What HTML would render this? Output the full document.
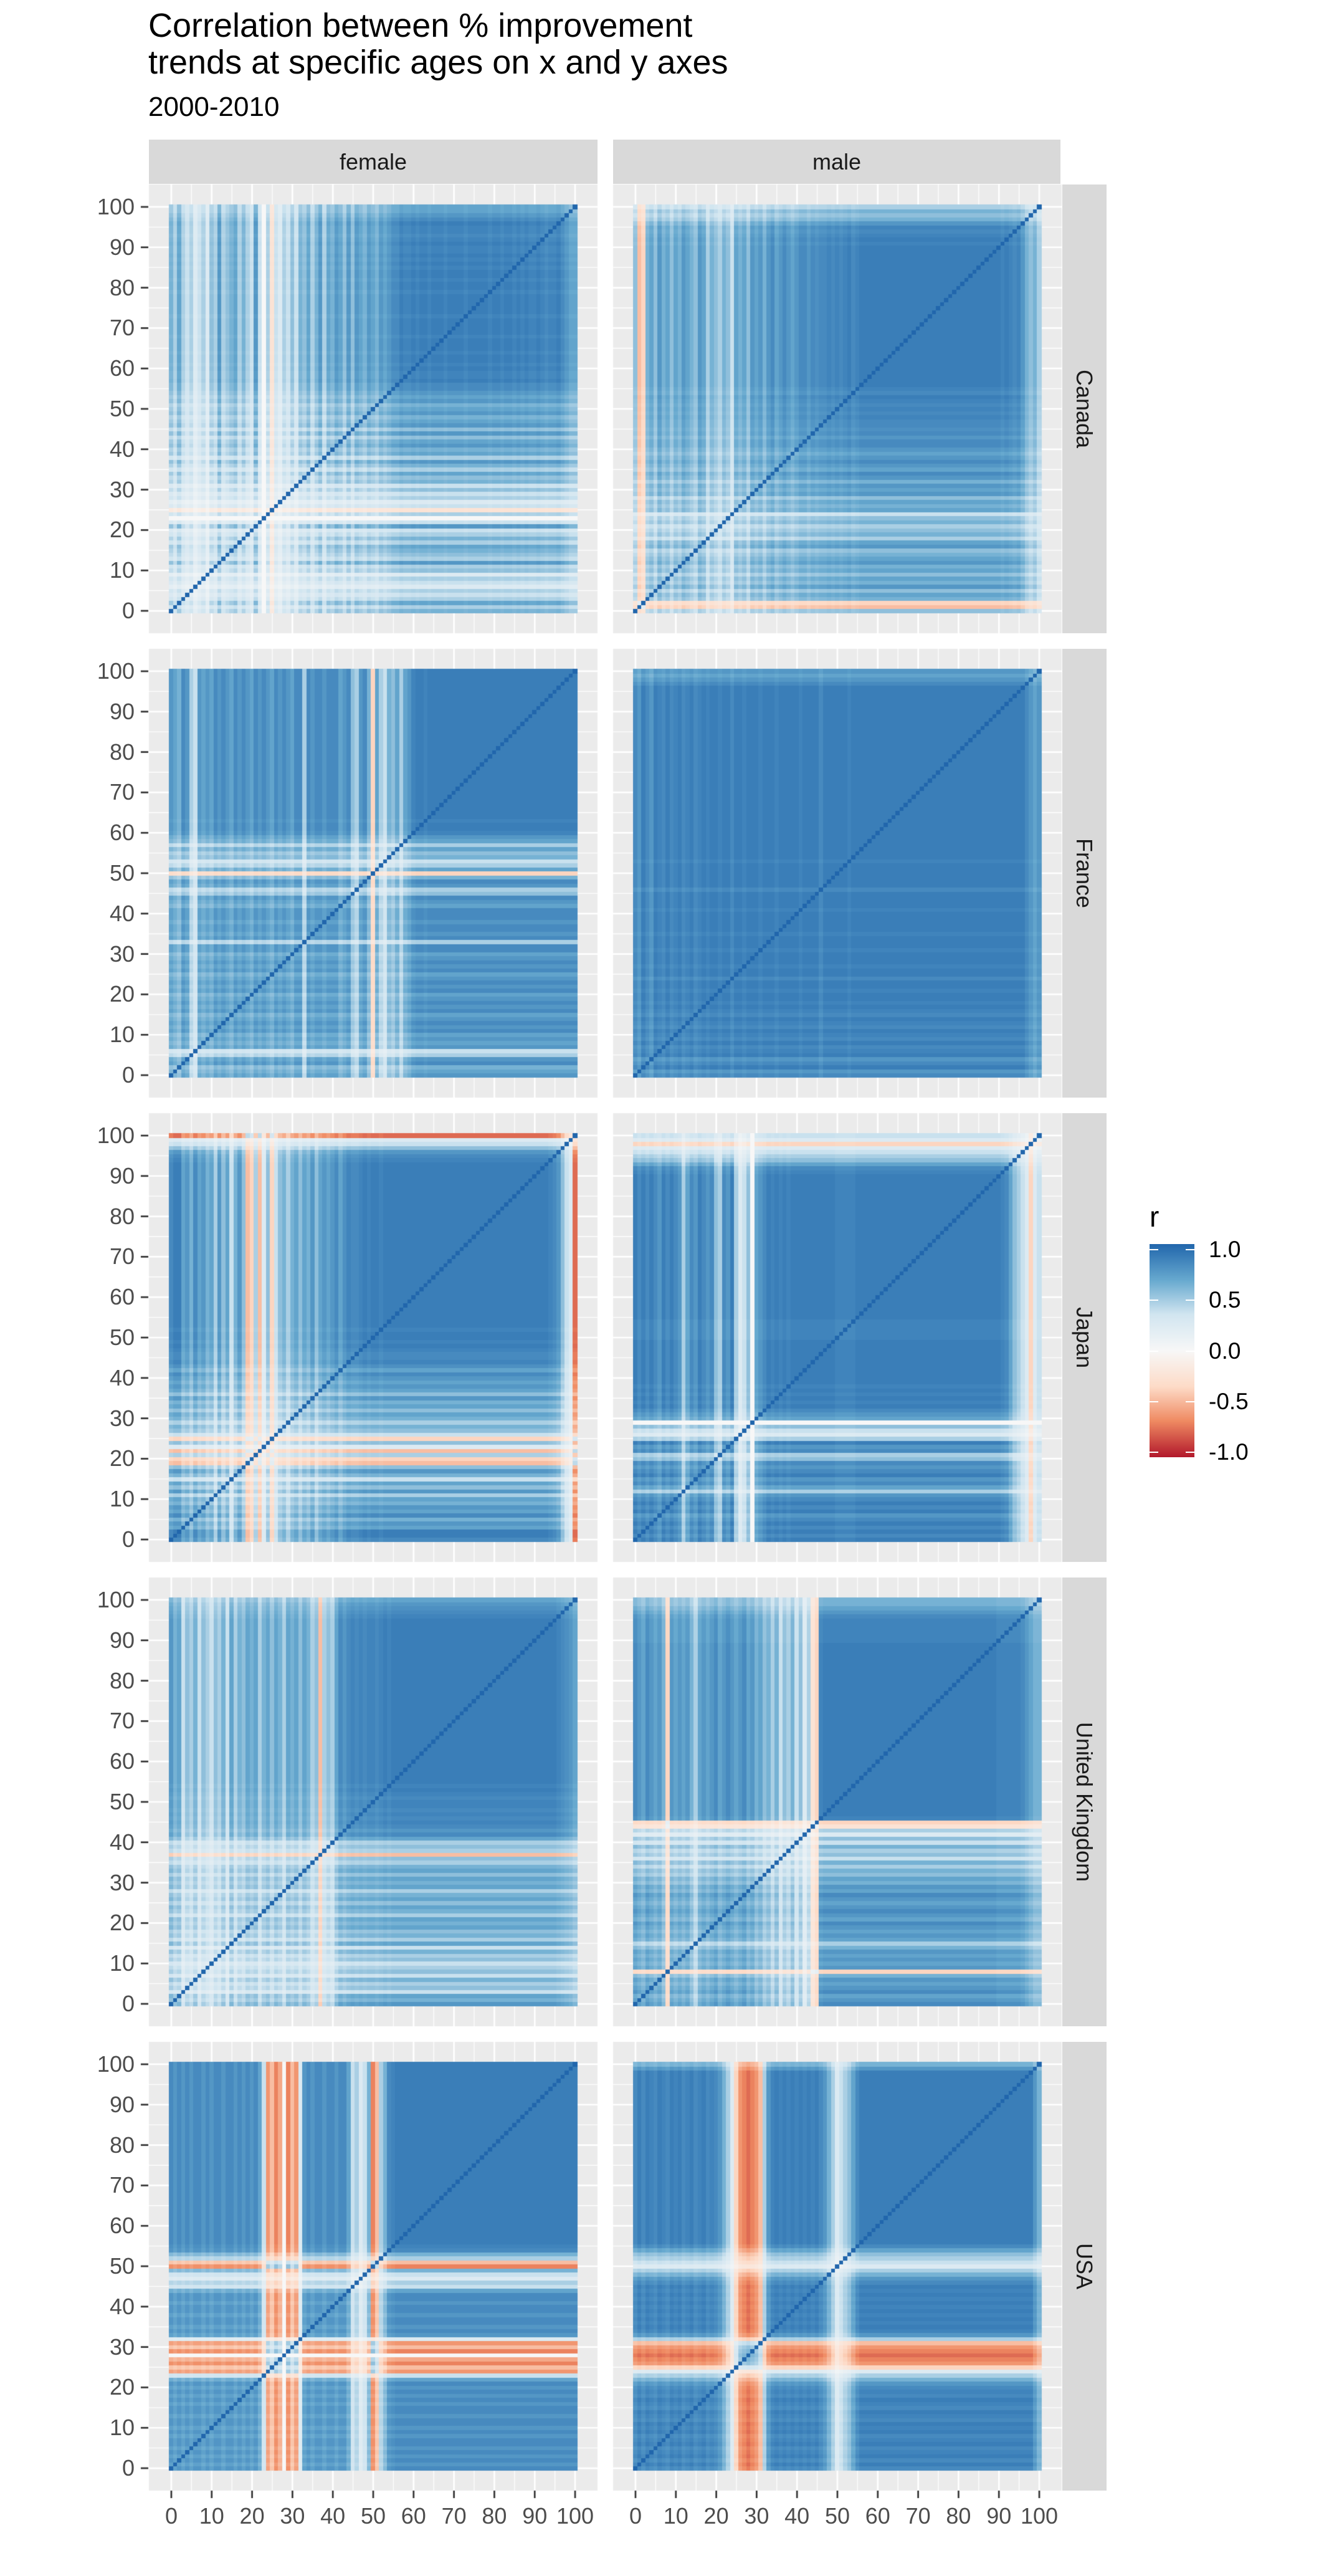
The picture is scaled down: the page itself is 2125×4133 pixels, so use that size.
<!DOCTYPE html>
<html><head><meta charset="utf-8"><style>
body{margin:0;background:#fff;width:2125px;height:4133px;position:relative;overflow:hidden;font-family:"Liberation Sans",Arial,sans-serif}
.t{position:absolute;white-space:nowrap}
.strip{position:absolute;background:#d9d9d9;color:#1a1a1a;font-size:36px;display:flex;align-items:center;justify-content:center}
.yl{position:absolute;font-size:36px;color:#4d4d4d;transform:translateY(-50%);text-align:right;width:100px}
.xl{position:absolute;font-size:36px;color:#4d4d4d;transform:translateX(-50%);top:4016px}
</style></head><body>
<canvas id="cv" width="2125" height="4133" style="position:absolute;left:0;top:0"></canvas>
<div class="t" style="left:238px;top:12px;font-size:54px;line-height:59px;color:#000">Correlation between % improvement<br>trends at specific ages on x and y axes</div>
<div class="t" style="left:238px;top:147px;font-size:44px;color:#000">2000-2010</div>
<div class="strip" style="left:239px;top:224px;width:720px;height:71px">female</div>
<div class="strip" style="left:984px;top:224px;width:718px;height:71px">male</div>
<div class="t" style="left:1845px;top:1925px;font-size:46px;color:#000">r</div>
<div id="legbar" style="position:absolute;left:1845px;top:1996px;width:72px;height:342px;background:linear-gradient(to bottom,#2166ac 0%,#67a9cf 17%,#d1e5f0 33%,#f7f7f7 50%,#fddbc7 67%,#ef8a62 83%,#b2182b 100%)"></div>
<div id="root"></div>
<script>
const countries=["Canada","France","Japan","United Kingdom","USA"];
const sexes=["female","male"];
const yTicks=[0,10,20,30,40,50,60,70,80,90,100];
const legendTicks=[1.0,0.5,0.0,-0.5,-1.0];
const legendLabels=["1.0","0.5","0.0","-0.5","-1.0"];
// per-age loading (approximate factor); r(i,j)~a_i*a_j, diagonal=1
const canadaFemale=[.5,.3,.6,.3,.2,.3,.1,.2,.3,.1,.4,.3,.7,.3,.4,.5,.6,.3,.5,.3,.2,.7,.2,0,.3,-.1,.2,.1,.3,.2,.4,.2,.5,.4,.6,.3,.5,.7,.3,.6,.5,.7,.6,.4,.7,.4,.7,.6,.5,.7,.6,.5,.7,.6,.7,.8,.8,.9,.85,.85,.9,.85,.9,.9,.85,.9,.9,.9,.85,.9,.9,.9,.9,.85,.9,.9,.9,.9,.9,.85,.9,.9,.85,.9,.9,.85,.9,.85,.9,.85,.85,.9,.85,.8,.85,.85,.9,.8,.7,.6,.6];
const canadaMale=[.4,-.3,-.2,.5,.6,.4,.7,.5,.6,.4,.6,.5,.7,.6,.5,.4,.7,.6,.3,.5,.4,.3,.5,.4,.2,.6,.5,.6,.4,.7,.6,.7,.5,.7,.8,.6,.7,.8,.7,.6,.7,.8,.8,.7,.8,.75,.8,.8,.85,.8,.85,.8,.85,.9,.8,.85,.9,.9,.9,.9,.9,.9,.9,.9,.9,.9,.9,.9,.9,.9,.9,.9,.9,.9,.9,.9,.9,.9,.9,.9,.9,.9,.9,.9,.9,.9,.9,.9,.9,.9,.9,.85,.9,.85,.8,.85,.7,.5,.4,.5,.3];
const franceFemale=[.7,.6,.5,.8,.7,.3,.2,.7,.6,.7,.6,.8,.7,.8,.7,.6,.8,.7,.8,.7,.6,.8,.7,.8,.7,.6,.8,.7,.8,.7,.6,.8,.8,.3,.8,.7,.8,.8,.7,.8,.8,.8,.6,.7,.8,.4,.3,.7,.8,.5,-.2,.6,.3,.2,.5,.4,.6,.3,.6,.7,.85,.9,.9,.85,.9,.9,.9,.9,.9,.9,.9,.9,.9,.9,.9,.9,.9,.9,.9,.9,.9,.9,.9,.9,.9,.9,.9,.9,.9,.9,.9,.9,.9,.9,.9,.9,.9,.9,.9,.9,.9];
const franceMale=[.8,.7,.9,.8,.7,.9,.85,.8,.9,.8,.85,.9,.8,.85,.9,.8,.85,.9,.85,.9,.9,.85,.9,.9,.8,.9,.9,.85,.9,.9,.9,.85,.9,.9,.9,.85,.9,.9,.9,.9,.9,.85,.9,.9,.9,.9,.8,.9,.9,.9,.9,.9,.9,.85,.9,.9,.9,.9,.9,.9,.9,.9,.9,.9,.9,.9,.9,.9,.9,.9,.9,.9,.9,.9,.9,.9,.9,.9,.9,.9,.9,.9,.9,.9,.9,.9,.9,.9,.9,.9,.9,.9,.9,.9,.9,.9,.9,.8,.7,.6,.7];
const japanFemale=[.8,.9,.9,.6,.7,.5,.8,.6,.7,.5,.6,.3,.7,.4,.6,.2,.5,.7,.4,-.3,-.2,.3,-.3,.1,.4,-.2,.2,.4,.5,.3,.5,.6,.4,.6,.5,.7,.4,.6,.7,.6,.7,.8,.6,.75,.85,.8,.8,.85,.9,.85,.9,.9,.85,.9,.9,.9,.9,.9,.9,.9,.9,.9,.9,.9,.9,.9,.9,.9,.9,.9,.9,.9,.9,.9,.9,.9,.9,.9,.9,.9,.9,.9,.9,.9,.9,.9,.9,.9,.9,.9,.9,.9,.9,.9,.85,.8,.7,.4,.2,.1,-.7];
const japanMale=[.9,.8,.9,.8,.9,.8,.7,.9,.8,.9,.8,.7,.3,.6,.8,.7,.9,.8,.7,.8,.4,.3,.8,.7,.9,.3,.1,.2,.4,0,.6,.7,.8,.9,.85,.9,.85,.9,.85,.9,.9,.9,.9,.9,.9,.9,.9,.9,.9,.9,.85,.85,.85,.85,.85,.9,.9,.9,.9,.9,.9,.9,.9,.9,.9,.9,.9,.9,.9,.9,.9,.9,.9,.9,.9,.9,.9,.9,.9,.9,.9,.9,.9,.9,.9,.9,.9,.9,.9,.9,.9,.85,.8,.6,.4,.3,.2,.1,-.2,.1,.2];
const ukFemale=[.7,.5,.6,.2,.4,.3,.5,.2,.4,.3,.2,.4,.3,.5,.2,.6,.3,.5,.4,.6,.5,.6,.3,.5,.6,.4,.6,.5,.3,.6,.5,.6,.4,.6,.5,.3,.4,-.3,.3,.4,.3,.6,.8,.7,.8,.85,.8,.85,.8,.85,.85,.8,.85,.9,.85,.9,.9,.9,.9,.9,.9,.9,.9,.9,.9,.9,.9,.9,.9,.9,.9,.9,.9,.9,.9,.9,.9,.9,.9,.9,.9,.9,.9,.9,.9,.9,.9,.9,.9,.9,.9,.9,.9,.9,.9,.9,.85,.8,.75,.7,.6];
const ukMale=[.8,.7,.6,.8,.7,.6,.7,.5,-.2,.7,.6,.7,.6,.7,.5,.3,.6,.7,.6,.7,.8,.6,.7,.8,.7,.6,.7,.8,.6,.7,.5,.6,.4,.5,.3,.5,.2,.4,.3,.5,.2,.4,.1,.3,-.1,-.2,.85,.9,.9,.9,.9,.9,.9,.9,.9,.9,.9,.9,.9,.9,.9,.9,.9,.9,.9,.9,.9,.9,.9,.9,.9,.9,.9,.9,.9,.9,.9,.9,.9,.9,.9,.9,.9,.9,.9,.9,.9,.9,.9,.9,.85,.85,.85,.85,.85,.85,.8,.7,.6,.5,.5];
const usaFemale=[.8,.7,.8,.7,.8,.7,.8,.8,.7,.8,.7,.8,.8,.7,.8,.8,.7,.8,.7,.8,.7,.8,.6,.2,-.5,-.3,-.6,-.4,0,-.6,-.3,-.5,.1,.7,.8,.7,.8,.8,.7,.8,.8,.7,.8,.8,.6,.2,.3,.1,.2,.5,-.6,-.3,.3,.5,.8,.85,.9,.9,.9,.9,.9,.9,.9,.9,.9,.9,.9,.9,.9,.9,.9,.9,.9,.9,.9,.9,.9,.9,.9,.9,.9,.9,.9,.9,.9,.9,.9,.9,.9,.9,.9,.9,.9,.9,.9,.9,.9,.9,.9,.9,.9];
const usaMale=[.8,.9,.8,.9,.85,.8,.9,.85,.8,.9,.85,.9,.8,.85,.9,.8,.85,.9,.8,.85,.8,.7,.5,.3,.1,-.2,-.5,-.6,-.7,-.6,-.5,-.3,.3,.7,.85,.9,.85,.9,.85,.9,.85,.9,.85,.9,.85,.9,.8,.7,.5,.3,.1,.2,.3,.4,.6,.8,.9,.9,.9,.9,.9,.9,.9,.9,.9,.9,.9,.9,.9,.9,.9,.9,.9,.9,.9,.9,.9,.9,.9,.9,.9,.9,.9,.9,.9,.9,.9,.9,.9,.9,.9,.9,.9,.9,.9,.9,.9,.9,.9,.7,.5];
const panelLoadings=[[canadaFemale,canadaMale],[franceFemale,franceMale],[japanFemale,japanMale],[ukFemale,ukMale],[usaFemale,usaMale]];

const stops=[[178,24,43],[239,138,98],[253,219,199],[247,247,247],[209,229,240],[103,169,207],[33,102,172]];
function col(r){r=Math.max(-1,Math.min(1,r));const t=(r+1)/2*6;const i=Math.min(5,Math.floor(t));const f=t-i;const a=stops[i],b=stops[i+1];return`rgb(${Math.round(a[0]+(b[0]-a[0])*f)},${Math.round(a[1]+(b[1]-a[1])*f)},${Math.round(a[2]+(b[2]-a[2])*f)})`;}

const PW=720,S=PW/111.1,lefts=[239,984],top0=296,step=745;
function xs(L,v){return L+(v+0.5+5.05)*S;}
function ys(T,v){return T+PW-(v+0.5+5.05)*S;}
const ctx=document.getElementById('cv').getContext('2d');
const root=document.getElementById('root');
for(let r=0;r<5;r++){
  const T=top0+r*step;
  for(let c=0;c<2;c++){
    const L=lefts[c];
    ctx.fillStyle='#ebebeb';ctx.fillRect(L,T,PW,PW);
    ctx.strokeStyle='#fff';
    for(let v=0;v<=100;v+=5){const major=v%10===0;
      ctx.lineWidth=major?2.7:1.35;
      const x=xs(L,v-0.5)+S/2,y=ys(T,v-0.5)-S/2;
      ctx.beginPath();ctx.moveTo(x,T);ctx.lineTo(x,T+PW);ctx.stroke();
      ctx.beginPath();ctx.moveTo(L,y);ctx.lineTo(L+PW,y);ctx.stroke();}
    const a=panelLoadings[r][c];
    for(let i=0;i<a.length;i++){for(let j=0;j<a.length;j++){
      const p=a[i]*a[j];
      const val=i===j?1:Math.sign(p)*Math.pow(Math.abs(p),0.6);
      ctx.fillStyle=col(val);
      const x0=Math.floor(xs(L,i-0.5)),x1=Math.ceil(xs(L,i+0.5));
      const y0=Math.floor(ys(T,j+0.5)),y1=Math.ceil(ys(T,j-0.5));
      ctx.fillRect(x0,y0,x1-x0,y1-y0);}}
  }
  ctx.strokeStyle='#333';ctx.lineWidth=2.7;
  for(const v of yTicks){const y=ys(T,v-0.5)-S/2;ctx.beginPath();ctx.moveTo(226,y);ctx.lineTo(238,y);ctx.stroke();
    const d=document.createElement('div');d.className='yl';d.style.left='116px';d.style.top=y+'px';d.textContent=v;
    
    
    root.appendChild(d);}
  const s=document.createElement('div');s.className='strip';
  s.style.left='1705px';s.style.top=T+'px';s.style.width='71px';s.style.height=PW+'px';
  s.innerHTML='<span style="transform:rotate(90deg);display:inline-block;white-space:nowrap">'+countries[r]+'</span>';
  
  
  root.appendChild(s);
}
const Tb=top0+4*step+PW;
ctx.strokeStyle='#333';ctx.lineWidth=2.7;
for(let c=0;c<2;c++){for(const v of yTicks){const x=xs(lefts[c],v-0.5)+S/2;
  ctx.beginPath();ctx.moveTo(x,Tb);ctx.lineTo(x,Tb+12);ctx.stroke();
  const d=document.createElement('div');d.className='xl';d.style.left=x+'px';d.textContent=v;
  
  
  root.appendChild(d);}}
const lb=document.getElementById('legbar');
for(let k=0;k<legendTicks.length;k++){
  const y=2005+(1-legendTicks[k])/2*325;
  const d=document.createElement('div');d.className='t';d.style.left='1940px';d.style.top=(y-21)+'px';d.style.fontSize='37px';d.textContent=legendLabels[k];
  
  
  root.appendChild(d);
  for(const xx of [0,58]){const m=document.createElement('div');m.style.cssText='position:absolute;left:'+xx+'px;top:'+(y-1996-1)+'px;width:14px;height:2px;background:#fff';
    
    
    lb.appendChild(m);}
}
</script>
</body></html>
